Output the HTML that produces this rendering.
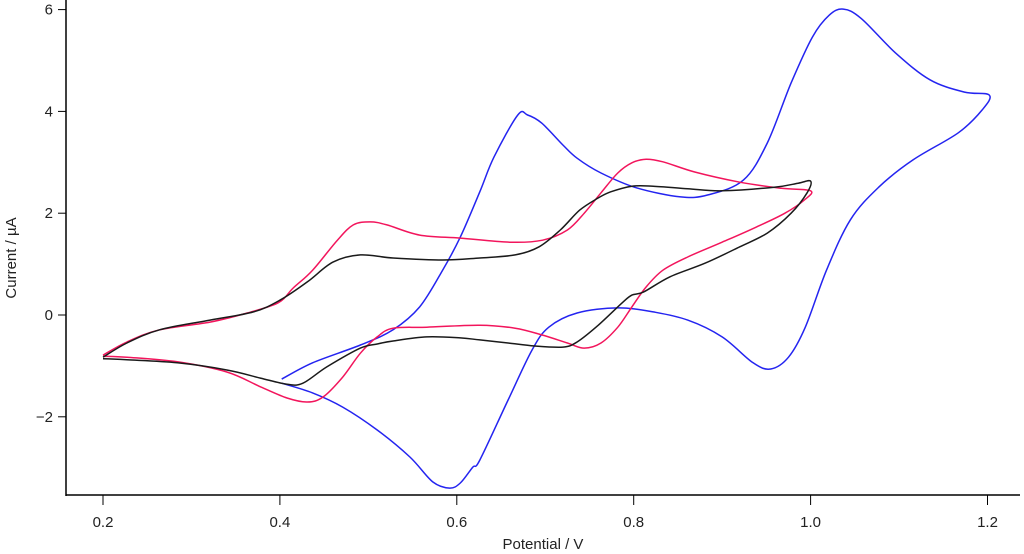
<!DOCTYPE html>
<html><head><meta charset="utf-8"><style>
body{margin:0;background:#fff;}
svg{display:block;font-family:"Liberation Sans",Arial,sans-serif;}
</style></head><body>
<svg id="chart" width="1024" height="554" viewBox="0 0 1024 554"></svg>
<script>
const xTicks=[0.2,0.4,0.6,0.8,1.0,1.2];
const xTickLabels=["0.2","0.4","0.6","0.8","1.0","1.2"];
const yTicks=[-2,0,2,4,6];
const yTickLabels=["\u22122","0","2","4","6"];
const blackV=[0.200,0.227,0.264,0.321,0.370,0.400,0.431,0.460,0.491,0.528,0.584,0.626,0.666,0.693,0.717,0.739,0.760,0.774,0.798,0.822,0.861,0.900,0.959,0.986,1.000,0.996,0.978,0.951,0.920,0.881,0.841,0.811,0.798,0.787,0.760,0.736,0.720,0.688,0.658,0.626,0.604,0.566,0.528,0.510,0.491,0.453,0.426,0.408,0.378,0.340,0.284,0.227,0.200];
const blackI=[-0.83,-0.55,-0.29,-0.10,0.06,0.29,0.65,1.04,1.18,1.12,1.08,1.12,1.18,1.34,1.67,2.06,2.30,2.42,2.53,2.53,2.48,2.44,2.51,2.59,2.63,2.40,2.00,1.61,1.34,1.02,0.75,0.45,0.39,0.24,-0.20,-0.53,-0.63,-0.61,-0.55,-0.49,-0.45,-0.43,-0.51,-0.57,-0.65,-1.02,-1.34,-1.36,-1.24,-1.08,-0.94,-0.88,-0.86];
const redV=[0.200,0.227,0.264,0.321,0.363,0.398,0.415,0.437,0.465,0.483,0.502,0.521,0.558,0.604,0.660,0.697,0.725,0.744,0.763,0.782,0.798,0.814,0.833,0.869,0.920,0.967,1.000,0.993,0.971,0.939,0.900,0.861,0.833,0.814,0.798,0.782,0.763,0.744,0.725,0.696,0.666,0.626,0.566,0.528,0.510,0.491,0.471,0.449,0.431,0.408,0.378,0.340,0.284,0.227,0.200];
const redI=[-0.79,-0.53,-0.29,-0.14,0.04,0.24,0.53,0.88,1.47,1.77,1.83,1.77,1.57,1.51,1.43,1.47,1.67,2.00,2.40,2.79,2.99,3.06,3.01,2.81,2.61,2.49,2.44,2.26,2.00,1.73,1.43,1.14,0.88,0.55,0.16,-0.24,-0.55,-0.65,-0.55,-0.39,-0.26,-0.20,-0.24,-0.26,-0.43,-0.75,-1.22,-1.61,-1.71,-1.63,-1.41,-1.12,-0.92,-0.83,-0.81];
const blueV=[0.402,0.437,0.491,0.528,0.558,0.584,0.604,0.626,0.642,0.669,0.680,0.696,0.720,0.736,0.763,0.803,0.853,0.884,0.924,0.951,0.978,1.002,1.021,1.037,1.057,1.096,1.135,1.174,1.202,1.194,1.167,1.116,1.077,1.045,1.018,0.994,0.975,0.955,0.935,0.900,0.861,0.822,0.782,0.736,0.704,0.685,0.658,0.626,0.618,0.604,0.592,0.573,0.547,0.510,0.471,0.437,0.402];
const blueI=[-1.26,-0.94,-0.59,-0.29,0.16,0.88,1.53,2.42,3.10,3.93,3.93,3.77,3.34,3.08,2.79,2.50,2.32,2.36,2.65,3.38,4.56,5.46,5.89,6.01,5.83,5.15,4.62,4.38,4.32,4.03,3.58,3.05,2.51,1.87,0.88,-0.24,-0.83,-1.06,-0.94,-0.43,-0.10,0.06,0.14,0.04,-0.24,-0.69,-1.67,-2.85,-2.99,-3.30,-3.40,-3.28,-2.79,-2.26,-1.81,-1.53,-1.34];

const svg=document.getElementById('chart');
const NS='http://www.w3.org/2000/svg';
const X0=66,X1=1020,YT=0,YB=495;
function xs(v){return 103+(v-0.2)*884.5;}
function ys(i){return 315-i*50.9;}
function mk(tag,attrs,parent){const e=document.createElementNS(NS,tag);for(const k in attrs)e.setAttribute(k,attrs[k]);(parent||svg).appendChild(e);return e;}

const axes=mk('g',{});


const yAxis=mk('line',{x1:X0,y1:YT,x2:X0,y2:YB+1,stroke:'#000','stroke-width':1.5},axes);


const xAxis=mk('line',{x1:X0,y1:YB,x2:X1,y2:YB,stroke:'#000','stroke-width':1.5},axes);



xTicks.forEach((v,k)=>{
  const t=mk('line',{x1:xs(v),y1:YB,x2:xs(v),y2:YB+10,stroke:'#000','stroke-width':1},axes);
  
  
  const l=mk('text',{x:xs(v),y:527,'text-anchor':'middle','font-size':15,fill:'#222'},axes);
  l.textContent=xTickLabels[k];
  
  
});
yTicks.forEach((v,k)=>{
  const t=mk('line',{x1:X0-8,y1:ys(v),x2:X0,y2:ys(v),stroke:'#000','stroke-width':1},axes);
  
  
  const l=mk('text',{x:53,y:ys(v)+5,'text-anchor':'end','font-size':15,fill:'#222'},axes);
  l.textContent=yTickLabels[k];
  
  
});
const xt=mk('text',{x:543,y:549,'text-anchor':'middle','font-size':15,fill:'#222'},axes);
xt.textContent='Potential / V';


const yt=mk('text',{x:16,y:258,'text-anchor':'middle','font-size':15,fill:'#222',transform:'rotate(-90 16 258)'},axes);
yt.textContent='Current / \u00b5A';



function series(V,I,color){
  const P=V.map((v,k)=>[xs(v),ys(I[k])]);
  let d='M'+P[0][0].toFixed(1)+' '+P[0][1].toFixed(1);
  for(let k=0;k<P.length-1;k++){
    const p0=P[Math.max(0,k-1)],p1=P[k],p2=P[k+1],p3=P[Math.min(P.length-1,k+2)];
    const c1=[p1[0]+(p2[0]-p0[0])/6,p1[1]+(p2[1]-p0[1])/6];
    const c2=[p2[0]-(p3[0]-p1[0])/6,p2[1]-(p3[1]-p1[1])/6];
    d+=' C'+c1[0].toFixed(1)+' '+c1[1].toFixed(1)+' '+c2[0].toFixed(1)+' '+c2[1].toFixed(1)+' '+p2[0].toFixed(1)+' '+p2[1].toFixed(1);
  }
  return mk('path',{d:d,fill:'none',stroke:color,'stroke-width':1.5,'stroke-linejoin':'round'});
}
const pb=series(blueV,blueI,'#2424f0');


const pr=series(redV,redI,'#f2155c');


const pk=series(blackV,blackI,'#1a1a1a');


</script>
</body></html>
